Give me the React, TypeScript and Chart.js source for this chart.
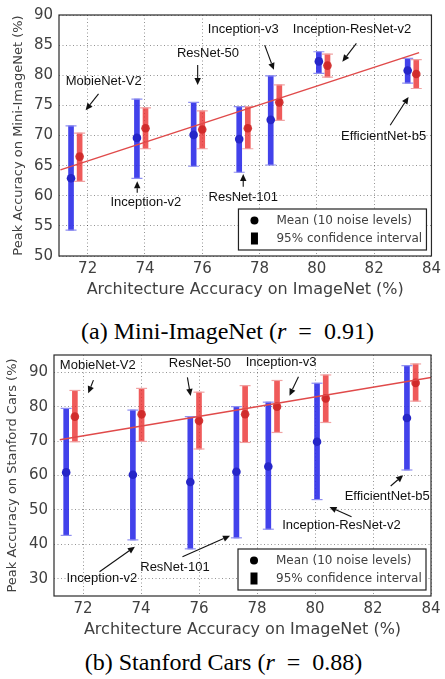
import React, { useEffect, useRef } from 'react';
import { Chart, registerables } from 'chart.js';

Chart.register(...registerables);

// ---------- data ----------
const architectures = ['MobieNet-V2', 'Inception-v2', 'ResNet-50', 'ResNet-101', 'Inception-v3', 'Inception-ResNet-v2', 'EfficientNet-b5'];
const blueX = [71.42, 73.72, 75.7, 77.29, 78.39, 80.07, 83.17];
const redX = [71.72, 74.02, 76.0, 77.59, 78.69, 80.37, 83.47];

const xMin = 71;
const xMax = 84;
const xTicks = [72, 74, 76, 78, 80, 82, 84];

// Mini-ImageNet
const miniYTicks = [50, 55, 60, 65, 70, 75, 80, 85, 90];
const miniBlueMean = [62.9, 69.6, 70.1, 69.4, 72.6, 82.3, 80.8];
const miniBlueLo = [54.3, 62.9, 64.9, 63.9, 65.1, 80.3, 78.7];
const miniBlueHi = [71.6, 76.05, 75.5, 74.8, 79.9, 83.9, 82.8];
const miniRedMean = [66.5, 71.2, 71.0, 71.2, 75.5, 81.6, 80.2];
const miniRedLo = [62.4, 67.8, 67.8, 67.8, 72.5, 79.7, 77.8];
const miniRedHi = [70.4, 74.6, 74.1, 74.8, 78.4, 83.5, 82.6];
const miniFitX = [71.05, 83.57];
const miniFitY = [64.3, 83.75];

// Stanford Cars
const carYTicks = [30, 40, 50, 60, 70, 80, 90];
const carBlueMean = [60.9, 60.2, 58.1, 61.1, 62.6, 69.8, 76.7];
const carBlueLo = [42.6, 41.3, 38.7, 41.9, 44.4, 53.0, 61.6];
const carBlueHi = [79.5, 79.0, 77.1, 80.0, 81.3, 86.8, 91.9];
const carRedMean = [77.1, 77.8, 75.9, 77.8, 80.0, 82.4, 86.9];
const carRedLo = [69.8, 69.9, 67.7, 69.6, 72.5, 75.4, 81.6];
const carRedHi = [84.7, 85.3, 84.2, 86.1, 87.6, 89.2, 92.4];
const carFitX = [71.2, 84.0];
const carFitY = [70.4, 88.5];

// annotations: [label index, text x, text y, arrow tail x, tail y, head x, head y]
const miniAnnotations: number[][] = [
  [0, 72.56, 78.9, 72.38, 76.9, 71.93, 74.2],
  [1, 74.03, 58.9, 73.73, 60.5, 73.73, 62.4],
  [2, 76.2, 83.6, 75.84, 81.7, 75.84, 78.4],
  [3, 77.43, 59.7, 77.43, 61.5, 77.43, 63.6],
  [4, 77.43, 87.6, 78.18, 85.0, 78.5, 80.9],
  [5, 81.23, 87.6, 81.38, 85.3, 80.89, 82.25],
  [6, 82.33, 69.9, 82.56, 71.7, 83.2, 76.4],
];
const carAnnotations: number[][] = [
  [0, 72.51, 92.1, 72.36, 87.7, 72.18, 83.9],
  [2, 76.03, 92.6, 75.6, 88.5, 75.71, 83.1],
  [4, 78.83, 92.9, 79.43, 88.7, 79.12, 83.2],
  [6, 82.49, 53.85, 82.61, 56.95, 83.04, 60.1],
  [5, 80.91, 45.6, 81.26, 48.0, 80.5, 50.85],
  [3, 75.17, 33.3, 75.43, 36.4, 77.07, 42.5],
  [1, 72.65, 30.1, 72.57, 32.05, 73.79, 39.3],
];

const legendLabels = ['Mean (10 noise levels)', '95% confidence interval'];

// ---------- styles ----------
const BLUE_BAR = 'rgba(40,40,232,0.88)';
const BLUE_MEAN = '#2626c8';
const BLUE_CAP = '#8f8ff0';
const RED_BAR = 'rgba(234,44,44,0.78)';
const RED_MEAN = 'rgba(206,38,38,0.9)';
const RED_CAP = '#f0a3a3';
const FIT = '#e04a4a';
const AXIS_TEXT = '#404040';

type PanelOpts = {
  yMin: number; yMax: number; yTicks: number[]; yTitle: string;
  yAxisWidth: number; yTitlePad: number; rightPad: number;
  blueMean: number[]; blueLo: number[]; blueHi: number[];
  redMean: number[]; redLo: number[]; redHi: number[];
  fitX: number[]; fitY: number[]; annotations: number[][];
};

function drawArrow(ctx: CanvasRenderingContext2D, x1: number, y1: number, x2: number, y2: number) {
  const ang = Math.atan2(y2 - y1, x2 - x1);
  const hl = 7, hw = 3.2;
  const bx = x2 - hl * Math.cos(ang), by = y2 - hl * Math.sin(ang);
  ctx.beginPath();
  ctx.moveTo(x1, y1);
  ctx.lineTo(bx, by);
  ctx.stroke();
  ctx.beginPath();
  ctx.moveTo(x2, y2);
  ctx.lineTo(bx + hw * Math.sin(ang), by - hw * Math.cos(ang));
  ctx.lineTo(bx - hw * Math.sin(ang), by + hw * Math.cos(ang));
  ctx.closePath();
  ctx.fill();
}

function overlayPlugin(anns: number[][]) {
  return {
    id: 'overlay',
    afterDraw(chart: any) {
      const { ctx, chartArea: a } = chart;
      const xs = chart.scales.x, ys = chart.scales.y;
      ctx.save();
      // annotations
      ctx.font = '13px "Liberation Sans", Arial, sans-serif';
      ctx.fillStyle = '#111';
      ctx.strokeStyle = '#111';
      ctx.lineWidth = 1.1;
      ctx.textAlign = 'center';
      ctx.textBaseline = 'middle';
      for (const an of anns) {
        ctx.fillText(architectures[an[0]], xs.getPixelForValue(an[1]), ys.getPixelForValue(an[2]));
        drawArrow(ctx,
          xs.getPixelForValue(an[3]), ys.getPixelForValue(an[4]),
          xs.getPixelForValue(an[5]), ys.getPixelForValue(an[6]));
      }
      // frame
      ctx.strokeStyle = '#2a2a2a';
      ctx.lineWidth = 1.2;
      ctx.strokeRect(a.left, a.top, a.right - a.left, a.bottom - a.top);
      // legend
      const w = 188, h = 41;
      const lx = a.right - 5 - w;
      const ly = a.bottom - 6 - h;
      ctx.fillStyle = '#fff';
      ctx.fillRect(lx, ly, w, h);
      ctx.strokeStyle = '#222';
      ctx.lineWidth = 1.2;
      ctx.strokeRect(lx, ly, w, h);
      ctx.fillStyle = '#000';
      ctx.beginPath();
      ctx.arc(lx + 16, ly + 11.5, 4, 0, Math.PI * 2);
      ctx.fill();
      ctx.fillRect(lx + 12.5, ly + 23.5, 7, 12);
      ctx.fillStyle = AXIS_TEXT;
      ctx.font = '12px "DejaVu Sans", sans-serif';
      ctx.textAlign = 'left';
      ctx.fillText(legendLabels[0], lx + 38, ly + 11.7);
      ctx.fillText(legendLabels[1], lx + 38, ly + 29.5);
      ctx.restore();
    },
  };
}

function pts(xsArr: number[], ysArr: number[]) {
  return xsArr.map((x, i) => ({ x, y: ysArr[i] }));
}
function caps(xsArr: number[], lo: number[], hi: number[]) {
  const out: { x: number; y: number }[] = [];
  xsArr.forEach((x, i) => { out.push({ x, y: lo[i] }); out.push({ x, y: hi[i] }); });
  return out;
}
function ranges(xsArr: number[], lo: number[], hi: number[]) {
  return xsArr.map((x, i) => ({ x, y: [lo[i], hi[i]] }));
}

function buildConfig(p: PanelOpts): any {
  return {
    type: 'bar',
    data: {
      datasets: [
        { type: 'line', data: pts(p.fitX, p.fitY), borderColor: FIT, borderWidth: 1.5, pointRadius: 0, fill: false },
        { type: 'scatter', data: pts(blueX, p.blueMean), backgroundColor: BLUE_MEAN, borderWidth: 0, pointRadius: 4.3 },
        { type: 'scatter', data: pts(redX, p.redMean), backgroundColor: RED_MEAN, borderWidth: 0, pointRadius: 4.3 },
        { type: 'scatter', data: caps(blueX, p.blueLo, p.blueHi), pointStyle: 'line', pointRadius: 5.5, borderColor: BLUE_CAP, borderWidth: 1.2 },
        { type: 'scatter', data: caps(redX, p.redLo, p.redHi), pointStyle: 'line', pointRadius: 5.5, borderColor: RED_CAP, borderWidth: 1.2 },
        { type: 'bar', data: ranges(blueX, p.blueLo, p.blueHi), backgroundColor: BLUE_BAR, borderWidth: 0, barThickness: 5, grouped: false },
        { type: 'bar', data: ranges(redX, p.redLo, p.redHi), backgroundColor: RED_BAR, borderWidth: 0, barThickness: 5, grouped: false },
      ],
    },
    options: {
      responsive: false,
      animation: false,
      events: [],
      layout: { padding: { top: 15, right: p.rightPad, left: 0, bottom: 0 } },
      plugins: { legend: { display: false }, tooltip: { enabled: false } },
      scales: {
        x: {
          type: 'linear',
          min: xMin,
          max: xMax,
          offset: false,
          afterFit: (s: any) => { s.height = 49; },
          afterBuildTicks: (s: any) => { s.ticks = xTicks.map((v) => ({ value: v })); },
          ticks: { color: AXIS_TEXT, padding: 4, font: { family: 'DejaVu Sans', size: 15 } },
          grid: { color: 'rgba(0,0,0,0.42)', lineWidth: 1, drawTicks: false, offset: false },
          border: { display: false, dash: [1, 2.5] },
          title: { display: true, text: 'Architecture Accuracy on ImageNet (%)', color: AXIS_TEXT, font: { family: 'DejaVu Sans', size: 16 }, padding: { top: 0, bottom: 5.4 } },
        },
        y: {
          type: 'linear',
          min: p.yMin,
          max: p.yMax,
          afterFit: (s: any) => { s.width = p.yAxisWidth; },
          afterBuildTicks: (s: any) => { s.ticks = p.yTicks.map((v) => ({ value: v })); },
          ticks: { color: AXIS_TEXT, padding: 6, font: { family: 'DejaVu Sans', size: 15 } },
          grid: { color: 'rgba(0,0,0,0.42)', lineWidth: 1, drawTicks: false },
          border: { display: false, dash: [1, 2.5] },
          title: { display: true, text: p.yTitle, color: AXIS_TEXT, font: { family: 'DejaVu Sans', size: 13 }, padding: { top: p.yTitlePad, bottom: 0 } },
        },
      },
    },
    plugins: [overlayPlugin(p.annotations)],
  };
}

function Panel({ opts, top }: { opts: PanelOpts; top: number }) {
  const ref = useRef<HTMLCanvasElement | null>(null);
  useEffect(() => {
    if (!ref.current) return;
    const chart = new Chart(ref.current, buildConfig(opts));
    return () => chart.destroy();
  }, []);
  return (
    <canvas ref={ref} width={445} height={305}
      style={{ position: 'absolute', left: 0, top, width: 445, height: 305 }} />
  );
}

const miniOpts: PanelOpts = {
  yMin: 50, yMax: 90, yTicks: miniYTicks, yTitle: 'Peak Accuracy on Mini-ImageNet (%)',
  yAxisWidth: 59, yTitlePad: 11.2, rightPad: 10,
  blueMean: miniBlueMean, blueLo: miniBlueLo, blueHi: miniBlueHi,
  redMean: miniRedMean, redLo: miniRedLo, redHi: miniRedHi,
  fitX: miniFitX, fitY: miniFitY, annotations: miniAnnotations,
};
const carOpts: PanelOpts = {
  yMin: 25, yMax: 95, yTicks: carYTicks, yTitle: 'Peak Accuracy on Stanford Cars (%)',
  yAxisWidth: 54, yTitlePad: 5.2, rightPad: 14,
  blueMean: carBlueMean, blueLo: carBlueLo, blueHi: carBlueHi,
  redMean: carRedMean, redLo: carRedLo, redHi: carRedHi,
  fitX: carFitX, fitY: carFitY, annotations: carAnnotations,
};

const captionStyle: React.CSSProperties = {
  position: 'absolute', width: 400, textAlign: 'center', whiteSpace: 'nowrap',
  fontFamily: '"Liberation Serif", "Times New Roman", serif', fontSize: 24, lineHeight: '24px', color: '#000',
};

export default function App() {
  return (
    <div style={{ position: 'absolute', left: 0, top: 0, width: 445, height: 679, background: '#fff', overflow: 'hidden' }}>
      <Panel opts={miniOpts} top={0} />
      <div style={{ ...captionStyle, left: 227.5 - 200, top: 319 }}>
        (a) Mini-ImageNet (<i>r</i>&nbsp;&nbsp;=&nbsp;&nbsp;0.91)
      </div>
      <Panel opts={carOpts} top={340} />
      <div style={{ ...captionStyle, left: 223.5 - 200, top: 650 }}>
        (b) Stanford Cars (<i>r</i>&nbsp;&nbsp;=&nbsp;&nbsp;0.88)
      </div>
    </div>
  );
}
